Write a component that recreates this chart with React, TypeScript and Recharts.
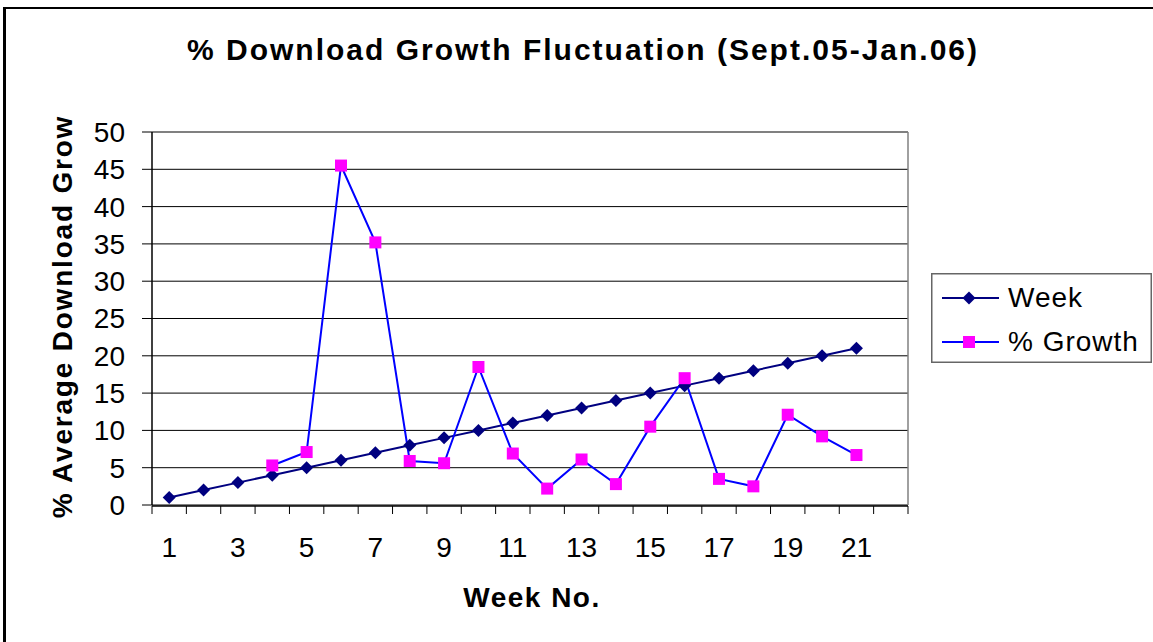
import React from 'react'
import { CartesianGrid, Legend, Line, LineChart, ReferenceLine, XAxis, YAxis } from 'recharts'

// ─── Données ──────────────────────────────────────────────────────────────────

const TITLE = '% Download Growth Fluctuation (Sept.05-Jan.06)'
const X_TITLE = 'Week No.'
const Y_TITLE = '% Average Download Grow'

const weeks = [1, 2, 3, 4, 5, 6, 7, 8, 9, 10, 11, 12, 13, 14, 15, 16, 17, 18, 19, 20, 21, 22]
const weekValues = [1, 2, 3, 4, 5, 6, 7, 8, 9, 10, 11, 12, 13, 14, 15, 16, 17, 18, 19, 20, 21]
const growthValues = [
  null, null, null, 5.3, 7.1, 45.5, 35.2, 5.9, 5.6, 18.5, 6.9, 2.2, 6.1, 2.8, 10.5, 17.0, 3.5, 2.5, 12.1,
  9.2, 6.7,
]
const xTickLabels = [1, 3, 5, 7, 9, 11, 13, 15, 17, 19, 21]
const yTickLabels = [0, 5, 10, 15, 20, 25, 30, 35, 40, 45, 50]

const FONT = '"Liberation Sans", Arial, sans-serif'
const WEEK_COLOR = '#000080'
const GROWTH_LINE = '#0000FF'
const GROWTH_MARK = '#FF00FF'

const chartData = weeks.map((w, i) => ({
  week: w,
  Week: weekValues[i] ?? null,
  Growth: growthValues[i] ?? null,
}))

// limites des catégories (graduations entre les semaines, comme Excel)
const boundaryTicks = [...weeks.map((w) => w - 0.5), weeks[weeks.length - 1] + 0.5]
const xDomain: [number, number] = [boundaryTicks[0], boundaryTicks[boundaryTicks.length - 1]]

// ─── Marqueurs ────────────────────────────────────────────────────────────────

function DiamondDot(p: any) {
  const { cx, cy, value, index } = p
  if (cx == null || cy == null || value == null) return <g key={`d-${index}`} />
  const r = 6.5
  return (
    <path
      key={`d-${index}`}
      d={`M${cx} ${cy - r}L${cx + r} ${cy}L${cx} ${cy + r}L${cx - r} ${cy}Z`}
      fill={WEEK_COLOR}
    />
  )
}

function SquareDot(p: any) {
  const { cx, cy, value, index } = p
  if (cx == null || cy == null || value == null) return <g key={`s-${index}`} />
  const s = 6
  return <rect key={`s-${index}`} x={cx - s} y={cy - s} width={s * 2} height={s * 2} fill={GROWTH_MARK} />
}

// ─── Légende ──────────────────────────────────────────────────────────────────

function LegendBox() {
  const items = [
    { name: 'Week', line: WEEK_COLOR, mark: 'diamond' },
    { name: '% Growth', line: GROWTH_LINE, mark: 'square' },
  ]
  return (
    <svg width={221} height={90} style={{ display: 'block' }}>
      <rect x={0.75} y={0.75} width={219.5} height={88.5} fill="#fff" stroke="#666" strokeWidth={1.5} />
      {items.map((it, i) => {
        const y = 25 + i * 44
        return (
          <g key={it.name}>
            <line x1={11} x2={68} y1={y} y2={y} stroke={it.line} strokeWidth={2} />
            {it.mark === 'diamond' ? (
              <path d={`M38 ${y - 6.5}L44.5 ${y}L38 ${y + 6.5}L31.5 ${y}Z`} fill={WEEK_COLOR} />
            ) : (
              <rect x={32} y={y - 6} width={12} height={12} fill={GROWTH_MARK} />
            )}
            <text x={77} y={y + 9} fontSize={28} fontFamily={FONT} fill="#000" letterSpacing={1}>
              {it.name}
            </text>
          </g>
        )
      })}
    </svg>
  )
}

// ─── Composant ────────────────────────────────────────────────────────────────

export default function App() {
  return (
    <div
      style={{
        position: 'relative',
        width: 1153,
        height: 642,
        overflow: 'hidden',
        background: '#fff',
        fontFamily: FONT,
      }}
    >
      <style>{'body{margin:0;}'}</style>

      {/* cadre extérieur */}
      <div
        style={{
          position: 'absolute',
          left: 3,
          top: 7,
          width: 1200,
          height: 700,
          borderLeft: '3px solid #000',
          borderTop: '2px solid #000',
        }}
      />

      {/* titre */}
      <svg width={1153} height={80} style={{ position: 'absolute', left: 0, top: 0, pointerEvents: 'none' }}>
        <text
          x={583}
          y={60}
          textAnchor="middle"
          fontSize={30}
          fontWeight="bold"
          fontFamily={FONT}
          letterSpacing={2}
          fill="#000"
        >
          {TITLE}
        </text>
      </svg>

      <LineChart
        width={1153}
        height={642}
        data={chartData}
        margin={{ top: 132, right: 245, bottom: 135, left: 52 }}
        style={{ position: 'absolute', left: 0, top: 0 }}
      >
        <CartesianGrid vertical={false} stroke="#000" strokeWidth={1} />

        {/* axe des graduations (entre catégories) */}
        <XAxis
          xAxisId="bounds"
          dataKey="week"
          type="number"
          domain={xDomain}
          ticks={boundaryTicks}
          allowDataOverflow
          height={1}
          tickSize={8}
          tickFormatter={() => ''}
          axisLine={{ stroke: '#000', strokeWidth: 1.5 }}
          tickLine={{ stroke: '#000' }}
        />
        {/* axe des étiquettes */}
        <XAxis
          dataKey="week"
          type="number"
          domain={xDomain}
          ticks={xTickLabels}
          allowDataOverflow
          height={1}
          axisLine={false}
          tickLine={false}
          tickSize={0}
          tickMargin={32}
          tick={{ fontSize: 28, fill: '#000', fontFamily: FONT }}
          label={{
            content: (props: any) => {
              const vb = props.viewBox
              return (
                <text
                  x={vb.x + vb.width / 2 + 2}
                  y={vb.y + 102}
                  textAnchor="middle"
                  fontSize={28}
                  fontWeight="bold"
                  fontFamily={FONT}
                  letterSpacing={1.5}
                  fill="#000"
                >
                  {X_TITLE}
                </text>
              )
            },
          }}
        />

        <YAxis
          type="number"
          domain={[0, 50]}
          ticks={yTickLabels}
          width={100}
          tickSize={10}
          tickMargin={17}
          axisLine={{ stroke: '#000', strokeWidth: 1.5 }}
          tickLine={{ stroke: '#000' }}
          tick={{ fontSize: 28, fill: '#000', fontFamily: FONT }}
          label={{
            content: (props: any) => {
              const vb = props.viewBox
              const x0 = vb.x + 20
              const cy = vb.y + vb.height / 2 - 2
              return (
                <text
                  x={x0}
                  y={cy}
                  transform={`rotate(-90 ${x0} ${cy})`}
                  textAnchor="middle"
                  fontSize={28}
                  fontWeight="bold"
                  fontFamily={FONT}
                  letterSpacing={1.8}
                  fill="#000"
                >
                  {Y_TITLE}
                </text>
              )
            },
          }}
        />

        {/* bordure de la zone de tracé (haut et droite, grises) */}
        <ReferenceLine y={50} stroke="#808080" strokeWidth={1.5} />
        <ReferenceLine x={xDomain[1]} xAxisId="bounds" stroke="#808080" strokeWidth={1.5} />

        <Legend
          layout="vertical"
          align="center"
          verticalAlign="middle"
          content={() => <LegendBox />}
          wrapperStyle={{ left: 931, top: 273, width: 221, height: 90 }}
        />

        <Line
          type="linear"
          dataKey="Week"
          name="Week"
          stroke={WEEK_COLOR}
          strokeWidth={2}
          dot={DiamondDot}
          activeDot={false}
          isAnimationActive={false}
        />
        <Line
          type="linear"
          dataKey="Growth"
          name="% Growth"
          stroke={GROWTH_LINE}
          strokeWidth={2}
          dot={SquareDot}
          activeDot={false}
          isAnimationActive={false}
        />
      </LineChart>
    </div>
  )
}
